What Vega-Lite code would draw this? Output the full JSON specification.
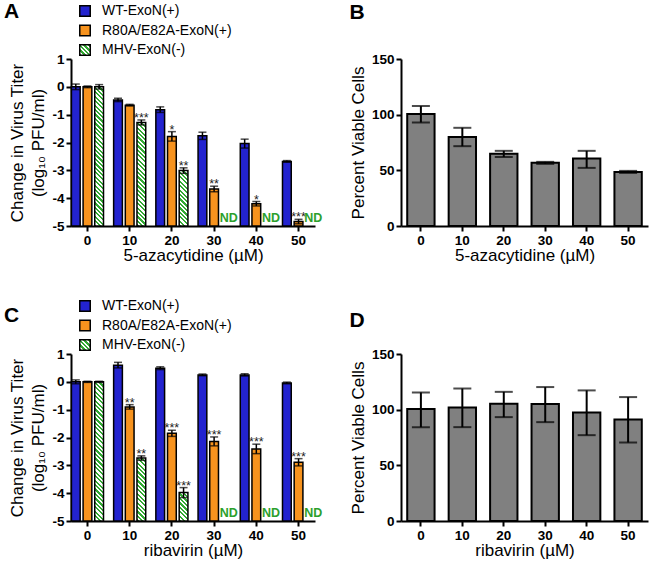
{
  "$schema": "https://vega.github.io/schema/vega-lite/v6.json",
  "background": "white",
  "padding": {"left": 3, "top": 1, "right": 2, "bottom": 2},
  "bounds": "flush",
  "columns": 2,
  "spacing": {"row": 128, "column": 86},
  "resolve": {"scale": {"fill": "independent"}, "legend": {"fill": "independent"}},
  "params": [
    {"name": "hatch", "expr": "[{offset:0,color:'#3a3'},{offset:0.0139,color:'#3a3'},{offset:0.0139,color:'#fff'},{offset:0.0278,color:'#fff'},{offset:0.0278,color:'#3a3'},{offset:0.0417,color:'#3a3'},{offset:0.0417,color:'#fff'},{offset:0.0556,color:'#fff'},{offset:0.0556,color:'#3a3'},{offset:0.0694,color:'#3a3'},{offset:0.0694,color:'#fff'},{offset:0.0833,color:'#fff'},{offset:0.0833,color:'#3a3'},{offset:0.0972,color:'#3a3'},{offset:0.0972,color:'#fff'},{offset:0.1111,color:'#fff'},{offset:0.1111,color:'#3a3'},{offset:0.125,color:'#3a3'},{offset:0.125,color:'#fff'},{offset:0.1389,color:'#fff'},{offset:0.1389,color:'#3a3'},{offset:0.1528,color:'#3a3'},{offset:0.1528,color:'#fff'},{offset:0.1667,color:'#fff'},{offset:0.1667,color:'#3a3'},{offset:0.1806,color:'#3a3'},{offset:0.1806,color:'#fff'},{offset:0.1944,color:'#fff'},{offset:0.1944,color:'#3a3'},{offset:0.2083,color:'#3a3'},{offset:0.2083,color:'#fff'},{offset:0.2222,color:'#fff'},{offset:0.2222,color:'#3a3'},{offset:0.2361,color:'#3a3'},{offset:0.2361,color:'#fff'},{offset:0.25,color:'#fff'},{offset:0.25,color:'#3a3'},{offset:0.2639,color:'#3a3'},{offset:0.2639,color:'#fff'},{offset:0.2778,color:'#fff'},{offset:0.2778,color:'#3a3'},{offset:0.2917,color:'#3a3'},{offset:0.2917,color:'#fff'},{offset:0.3056,color:'#fff'},{offset:0.3056,color:'#3a3'},{offset:0.3194,color:'#3a3'},{offset:0.3194,color:'#fff'},{offset:0.3333,color:'#fff'},{offset:0.3333,color:'#3a3'},{offset:0.3472,color:'#3a3'},{offset:0.3472,color:'#fff'},{offset:0.3611,color:'#fff'},{offset:0.3611,color:'#3a3'},{offset:0.375,color:'#3a3'},{offset:0.375,color:'#fff'},{offset:0.3889,color:'#fff'},{offset:0.3889,color:'#3a3'},{offset:0.4028,color:'#3a3'},{offset:0.4028,color:'#fff'},{offset:0.4167,color:'#fff'},{offset:0.4167,color:'#3a3'},{offset:0.4306,color:'#3a3'},{offset:0.4306,color:'#fff'},{offset:0.4444,color:'#fff'},{offset:0.4444,color:'#3a3'},{offset:0.4583,color:'#3a3'},{offset:0.4583,color:'#fff'},{offset:0.4722,color:'#fff'},{offset:0.4722,color:'#3a3'},{offset:0.4861,color:'#3a3'},{offset:0.4861,color:'#fff'},{offset:0.5,color:'#fff'},{offset:0.5,color:'#3a3'},{offset:0.5139,color:'#3a3'},{offset:0.5139,color:'#fff'},{offset:0.5278,color:'#fff'},{offset:0.5278,color:'#3a3'},{offset:0.5417,color:'#3a3'},{offset:0.5417,color:'#fff'},{offset:0.5556,color:'#fff'},{offset:0.5556,color:'#3a3'},{offset:0.5694,color:'#3a3'},{offset:0.5694,color:'#fff'},{offset:0.5833,color:'#fff'},{offset:0.5833,color:'#3a3'},{offset:0.5972,color:'#3a3'},{offset:0.5972,color:'#fff'},{offset:0.6111,color:'#fff'},{offset:0.6111,color:'#3a3'},{offset:0.625,color:'#3a3'},{offset:0.625,color:'#fff'},{offset:0.6389,color:'#fff'},{offset:0.6389,color:'#3a3'},{offset:0.6528,color:'#3a3'},{offset:0.6528,color:'#fff'},{offset:0.6667,color:'#fff'},{offset:0.6667,color:'#3a3'},{offset:0.6806,color:'#3a3'},{offset:0.6806,color:'#fff'},{offset:0.6944,color:'#fff'},{offset:0.6944,color:'#3a3'},{offset:0.7083,color:'#3a3'},{offset:0.7083,color:'#fff'},{offset:0.7222,color:'#fff'},{offset:0.7222,color:'#3a3'},{offset:0.7361,color:'#3a3'},{offset:0.7361,color:'#fff'},{offset:0.75,color:'#fff'},{offset:0.75,color:'#3a3'},{offset:0.7639,color:'#3a3'},{offset:0.7639,color:'#fff'},{offset:0.7778,color:'#fff'},{offset:0.7778,color:'#3a3'},{offset:0.7917,color:'#3a3'},{offset:0.7917,color:'#fff'},{offset:0.8056,color:'#fff'},{offset:0.8056,color:'#3a3'},{offset:0.8194,color:'#3a3'},{offset:0.8194,color:'#fff'},{offset:0.8333,color:'#fff'},{offset:0.8333,color:'#3a3'},{offset:0.8472,color:'#3a3'},{offset:0.8472,color:'#fff'},{offset:0.8611,color:'#fff'},{offset:0.8611,color:'#3a3'},{offset:0.875,color:'#3a3'},{offset:0.875,color:'#fff'},{offset:0.8889,color:'#fff'},{offset:0.8889,color:'#3a3'},{offset:0.9028,color:'#3a3'},{offset:0.9028,color:'#fff'},{offset:0.9167,color:'#fff'},{offset:0.9167,color:'#3a3'},{offset:0.9306,color:'#3a3'},{offset:0.9306,color:'#fff'},{offset:0.9444,color:'#fff'},{offset:0.9444,color:'#3a3'},{offset:0.9583,color:'#3a3'},{offset:0.9583,color:'#fff'},{offset:0.9722,color:'#fff'},{offset:0.9722,color:'#3a3'},{offset:0.9861,color:'#3a3'},{offset:0.9861,color:'#fff'},{offset:1,color:'#fff'}]"}
  ],
  "datasets": {
    "aza": [
      {"conc": "0", "series": "WT-ExoN(+)", "value": 0, "lo": -0.1, "hi": 0.1, "sig": "", "note": ""},
      {"conc": "0", "series": "R80A/E82A-ExoN(+)", "value": 0, "lo": -0.03, "hi": 0.03, "sig": "", "note": ""},
      {"conc": "0", "series": "MHV-ExoN(-)", "value": 0, "lo": -0.08, "hi": 0.08, "sig": "", "note": ""},
      {"conc": "10", "series": "WT-ExoN(+)", "value": -0.47, "lo": -0.53, "hi": -0.41, "sig": "", "note": ""},
      {"conc": "10", "series": "R80A/E82A-ExoN(+)", "value": -0.66, "lo": -0.69, "hi": -0.63, "sig": "", "note": ""},
      {"conc": "10", "series": "MHV-ExoN(-)", "value": -1.28, "lo": -1.37, "hi": -1.19, "sig": "***", "note": ""},
      {"conc": "20", "series": "WT-ExoN(+)", "value": -0.82, "lo": -0.92, "hi": -0.72, "sig": "", "note": ""},
      {"conc": "20", "series": "R80A/E82A-ExoN(+)", "value": -1.78, "lo": -1.95, "hi": -1.61, "sig": "*", "note": ""},
      {"conc": "20", "series": "MHV-ExoN(-)", "value": -3.01, "lo": -3.11, "hi": -2.91, "sig": "**", "note": ""},
      {"conc": "30", "series": "WT-ExoN(+)", "value": -1.76, "lo": -1.89, "hi": -1.63, "sig": "", "note": ""},
      {"conc": "30", "series": "R80A/E82A-ExoN(+)", "value": -3.67, "lo": -3.77, "hi": -3.57, "sig": "**", "note": ""},
      {"conc": "30", "series": "MHV-ExoN(-)", "value": null, "lo": null, "hi": null, "sig": "", "note": "ND"},
      {"conc": "40", "series": "WT-ExoN(+)", "value": -2.04, "lo": -2.2, "hi": -1.88, "sig": "", "note": ""},
      {"conc": "40", "series": "R80A/E82A-ExoN(+)", "value": -4.2, "lo": -4.28, "hi": -4.12, "sig": "*", "note": ""},
      {"conc": "40", "series": "MHV-ExoN(-)", "value": null, "lo": null, "hi": null, "sig": "", "note": "ND"},
      {"conc": "50", "series": "WT-ExoN(+)", "value": -2.68, "lo": -2.71, "hi": -2.65, "sig": "", "note": ""},
      {"conc": "50", "series": "R80A/E82A-ExoN(+)", "value": -4.84, "lo": -4.92, "hi": -4.76, "sig": "***", "note": ""},
      {"conc": "50", "series": "MHV-ExoN(-)", "value": null, "lo": null, "hi": null, "sig": "", "note": "ND"}
    ],
    "riba": [
      {"conc": "0", "series": "WT-ExoN(+)", "value": 0, "lo": -0.07, "hi": 0.07, "sig": "", "note": ""},
      {"conc": "0", "series": "R80A/E82A-ExoN(+)", "value": 0, "lo": -0.02, "hi": 0.02, "sig": "", "note": ""},
      {"conc": "0", "series": "MHV-ExoN(-)", "value": 0, "lo": -0.02, "hi": 0.02, "sig": "", "note": ""},
      {"conc": "10", "series": "WT-ExoN(+)", "value": 0.6, "lo": 0.5, "hi": 0.7, "sig": "", "note": ""},
      {"conc": "10", "series": "R80A/E82A-ExoN(+)", "value": -0.9, "lo": -0.98, "hi": -0.82, "sig": "**", "note": ""},
      {"conc": "10", "series": "MHV-ExoN(-)", "value": -2.74, "lo": -2.82, "hi": -2.66, "sig": "**", "note": ""},
      {"conc": "20", "series": "WT-ExoN(+)", "value": 0.49, "lo": 0.44, "hi": 0.54, "sig": "", "note": ""},
      {"conc": "20", "series": "R80A/E82A-ExoN(+)", "value": -1.85, "lo": -1.96, "hi": -1.74, "sig": "***", "note": ""},
      {"conc": "20", "series": "MHV-ExoN(-)", "value": -3.98, "lo": -4.16, "hi": -3.8, "sig": "***", "note": ""},
      {"conc": "30", "series": "WT-ExoN(+)", "value": 0.25, "lo": 0.22, "hi": 0.28, "sig": "", "note": ""},
      {"conc": "30", "series": "R80A/E82A-ExoN(+)", "value": -2.14, "lo": -2.3, "hi": -1.98, "sig": "***", "note": ""},
      {"conc": "30", "series": "MHV-ExoN(-)", "value": null, "lo": null, "hi": null, "sig": "", "note": "ND"},
      {"conc": "40", "series": "WT-ExoN(+)", "value": 0.25, "lo": 0.21, "hi": 0.29, "sig": "", "note": ""},
      {"conc": "40", "series": "R80A/E82A-ExoN(+)", "value": -2.41, "lo": -2.58, "hi": -2.24, "sig": "***", "note": ""},
      {"conc": "40", "series": "MHV-ExoN(-)", "value": null, "lo": null, "hi": null, "sig": "", "note": "ND"},
      {"conc": "50", "series": "WT-ExoN(+)", "value": -0.04, "lo": -0.07, "hi": -0.01, "sig": "", "note": ""},
      {"conc": "50", "series": "R80A/E82A-ExoN(+)", "value": -2.89, "lo": -3.02, "hi": -2.76, "sig": "***", "note": ""},
      {"conc": "50", "series": "MHV-ExoN(-)", "value": null, "lo": null, "hi": null, "sig": "", "note": "ND"}
    ],
    "azaViab": [
      {"conc": "0", "value": 100.5, "lo": 93, "hi": 107.7},
      {"conc": "10", "value": 80, "lo": 71.7, "hi": 88.2},
      {"conc": "20", "value": 65, "lo": 62, "hi": 67.5},
      {"conc": "30", "value": 56.7, "lo": 55.8, "hi": 57.6},
      {"conc": "40", "value": 60.6, "lo": 52.2, "hi": 67.5},
      {"conc": "50", "value": 48.6, "lo": 47.7, "hi": 49.5}
    ],
    "ribaViab": [
      {"conc": "0", "value": 100.5, "lo": 84.3, "hi": 115.5},
      {"conc": "10", "value": 102, "lo": 84.3, "hi": 119},
      {"conc": "20", "value": 105.3, "lo": 93.3, "hi": 116},
      {"conc": "30", "value": 105, "lo": 88.8, "hi": 120.3},
      {"conc": "40", "value": 97.5, "lo": 77.1, "hi": 117.3},
      {"conc": "50", "value": 91.2, "lo": 70.5, "hi": 111.3}
    ]
  },
  "concat": [
    {
      "width": 244, "height": 167,
      "title": {"text": "A", "dx": -5, "offset": -18},
      "data": {"name": "aza"},
      "encoding": {
        "x": {"field": "conc", "type": "nominal", "sort": ["0", "10", "20", "30", "40", "50"], "scale": {"paddingInner": 0.24, "paddingOuter": 0.01}, "axis": {"title": "5-azacytidine (µM)"}},
        "xOffset": {"field": "series", "type": "nominal", "sort": ["WT-ExoN(+)", "R80A/E82A-ExoN(+)", "MHV-ExoN(-)"], "scale": {"domain": ["WT-ExoN(+)", "R80A/E82A-ExoN(+)", "MHV-ExoN(-)"], "paddingInner": 0.25, "paddingOuter": 0}}
      },
      "layer": [
        {
          "transform": [{"filter": "datum.series !== 'MHV-ExoN(-)' && isValid(datum.value)"}],
          "mark": {"type": "bar", "stroke": "black", "strokeWidth": 1.5},
          "encoding": {
            "y": {"field": "value", "type": "quantitative", "scale": {"domain": [-5, 1], "nice": false, "zero": false}, "axis": {"values": [-5, -4, -3, -2, -1, 0, 1], "tickCount": 12, "labelOverlap": false, "labelExpr": "'' + datum.value", "title": ["Change in Virus Titer", "(log₁₀ PFU/ml)"]}},
            "y2": {"datum": -5},
            "fill": {"field": "series", "type": "nominal", "scale": {"domain": ["WT-ExoN(+)", "R80A/E82A-ExoN(+)", "MHV-ExoN(-)"], "range": ["#2323cf", "#f7931e", {"expr": "{gradient:'linear',x1:0,y1:1,x2:7.63,y2:-6.63,stops:hatch}"}]}, "legend": {"orient": "none", "legendX": 7, "legendY": -55, "title": null}}
          }
        },
        {
          "transform": [{"filter": "datum.series === 'MHV-ExoN(-)' && isValid(datum.value)"}],
          "mark": {"type": "bar", "stroke": "black", "strokeWidth": 1.5, "fill": {"expr": "{gradient:'linear',x1:0,y1:1,x2:160*8.78/(77.1+pow((datum.value+5)*27.83,2)),y2:1-160*(datum.value+5)*27.83/(77.1+pow((datum.value+5)*27.83,2)),stops:hatch}"}},
          "encoding": {
            "y": {"field": "value", "type": "quantitative", "scale": {"domain": [-5, 1], "nice": false, "zero": false}},
            "y2": {"datum": -5}
          }
        },
        {
          "transform": [{"filter": "isValid(datum.value)"}],
          "mark": {"type": "rule", "color": "black", "strokeWidth": 1.5},
          "encoding": {
            "y": {"field": "lo", "type": "quantitative", "scale": {"domain": [-5, 1], "nice": false, "zero": false}},
            "y2": {"field": "hi"}
          }
        },
        {
          "transform": [{"filter": "isValid(datum.value)"}],
          "mark": {"type": "tick", "color": "black", "size": 8, "thickness": 1.5},
          "encoding": {"y": {"field": "lo", "type": "quantitative", "scale": {"domain": [-5, 1], "nice": false, "zero": false}}}
        },
        {
          "transform": [{"filter": "isValid(datum.value)"}],
          "mark": {"type": "tick", "color": "black", "size": 8, "thickness": 1.5},
          "encoding": {"y": {"field": "hi", "type": "quantitative", "scale": {"domain": [-5, 1], "nice": false, "zero": false}}}
        },
        {
          "transform": [{"filter": "datum.sig !== ''"}],
          "mark": {"type": "text", "font": "Liberation Sans", "fontSize": 12.5, "color": "#222", "baseline": "alphabetic", "dy": 2},
          "encoding": {
            "y": {"field": "hi", "type": "quantitative", "scale": {"domain": [-5, 1], "nice": false, "zero": false}},
            "text": {"field": "sig"}
          }
        },
        {
          "transform": [{"filter": "datum.note === 'ND'"}],
          "mark": {"type": "text", "font": "Liberation Sans", "fontSize": 12.5, "fontWeight": "bold", "color": "#2ca02c", "baseline": "alphabetic", "dx": 3, "dy": -4},
          "encoding": {
            "y": {"datum": -5, "type": "quantitative", "scale": {"domain": [-5, 1], "nice": false, "zero": false}},
            "text": {"field": "note"}
          }
        }
      ]
    },
    {
      "width": 247, "height": 167,
      "title": {"text": "B", "offset": 29},
      "data": {"name": "azaViab"},
      "encoding": {
        "x": {"field": "conc", "type": "nominal", "sort": ["0", "10", "20", "30", "40", "50"], "scale": {"paddingInner": 0.34, "paddingOuter": 0.15}, "axis": {"title": "5-azacytidine (µM)"}}
      },
      "layer": [
        {
          "mark": {"type": "bar", "fill": "#808080", "stroke": "black", "strokeWidth": 2},
          "encoding": {"y": {"field": "value", "type": "quantitative", "scale": {"domain": [0, 150], "nice": false}, "axis": {"values": [0, 50, 100, 150], "tickCount": 12, "labelOverlap": false, "title": "Percent Viable Cells"}}}
        },
        {
          "mark": {"type": "rule", "color": "black", "strokeWidth": 2},
          "encoding": {"y": {"field": "lo", "type": "quantitative", "scale": {"domain": [0, 150], "nice": false}}, "y2": {"field": "hi"}}
        },
        {
          "mark": {"type": "tick", "color": "black", "size": 18, "thickness": 2},
          "encoding": {"y": {"field": "lo", "type": "quantitative", "scale": {"domain": [0, 150], "nice": false}}}
        },
        {
          "mark": {"type": "tick", "color": "black", "size": 18, "thickness": 2},
          "encoding": {"y": {"field": "hi", "type": "quantitative", "scale": {"domain": [0, 150], "nice": false}}}
        }
      ]
    },
    {
      "width": 244, "height": 167,
      "title": {"text": "C", "dx": -5, "offset": -27},
      "data": {"name": "riba"},
      "encoding": {
        "x": {"field": "conc", "type": "nominal", "sort": ["0", "10", "20", "30", "40", "50"], "scale": {"paddingInner": 0.24, "paddingOuter": 0.01}, "axis": {"title": "ribavirin (µM)"}},
        "xOffset": {"field": "series", "type": "nominal", "sort": ["WT-ExoN(+)", "R80A/E82A-ExoN(+)", "MHV-ExoN(-)"], "scale": {"domain": ["WT-ExoN(+)", "R80A/E82A-ExoN(+)", "MHV-ExoN(-)"], "paddingInner": 0.25, "paddingOuter": 0}}
      },
      "layer": [
        {
          "transform": [{"filter": "datum.series !== 'MHV-ExoN(-)' && isValid(datum.value)"}],
          "mark": {"type": "bar", "stroke": "black", "strokeWidth": 1.5},
          "encoding": {
            "y": {"field": "value", "type": "quantitative", "scale": {"domain": [-5, 1], "nice": false, "zero": false}, "axis": {"values": [-5, -4, -3, -2, -1, 0, 1], "tickCount": 12, "labelOverlap": false, "labelExpr": "'' + datum.value", "title": ["Change in Virus Titer", "(log₁₀ PFU/ml)"]}},
            "y2": {"datum": -5},
            "fill": {"field": "series", "type": "nominal", "scale": {"domain": ["WT-ExoN(+)", "R80A/E82A-ExoN(+)", "MHV-ExoN(-)"], "range": ["#2323cf", "#f7931e", {"expr": "{gradient:'linear',x1:0,y1:1,x2:7.63,y2:-6.63,stops:hatch}"}]}, "legend": {"orient": "none", "legendX": 7, "legendY": -55, "title": null}}
          }
        },
        {
          "transform": [{"filter": "datum.series === 'MHV-ExoN(-)' && isValid(datum.value)"}],
          "mark": {"type": "bar", "stroke": "black", "strokeWidth": 1.5, "fill": {"expr": "{gradient:'linear',x1:0,y1:1,x2:160*8.78/(77.1+pow((datum.value+5)*27.83,2)),y2:1-160*(datum.value+5)*27.83/(77.1+pow((datum.value+5)*27.83,2)),stops:hatch}"}},
          "encoding": {
            "y": {"field": "value", "type": "quantitative", "scale": {"domain": [-5, 1], "nice": false, "zero": false}},
            "y2": {"datum": -5}
          }
        },
        {
          "transform": [{"filter": "isValid(datum.value)"}],
          "mark": {"type": "rule", "color": "black", "strokeWidth": 1.5},
          "encoding": {
            "y": {"field": "lo", "type": "quantitative", "scale": {"domain": [-5, 1], "nice": false, "zero": false}},
            "y2": {"field": "hi"}
          }
        },
        {
          "transform": [{"filter": "isValid(datum.value)"}],
          "mark": {"type": "tick", "color": "black", "size": 8, "thickness": 1.5},
          "encoding": {"y": {"field": "lo", "type": "quantitative", "scale": {"domain": [-5, 1], "nice": false, "zero": false}}}
        },
        {
          "transform": [{"filter": "isValid(datum.value)"}],
          "mark": {"type": "tick", "color": "black", "size": 8, "thickness": 1.5},
          "encoding": {"y": {"field": "hi", "type": "quantitative", "scale": {"domain": [-5, 1], "nice": false, "zero": false}}}
        },
        {
          "transform": [{"filter": "datum.sig !== ''"}],
          "mark": {"type": "text", "font": "Liberation Sans", "fontSize": 12.5, "color": "#222", "baseline": "alphabetic", "dy": 2},
          "encoding": {
            "y": {"field": "hi", "type": "quantitative", "scale": {"domain": [-5, 1], "nice": false, "zero": false}},
            "text": {"field": "sig"}
          }
        },
        {
          "transform": [{"filter": "datum.note === 'ND'"}],
          "mark": {"type": "text", "font": "Liberation Sans", "fontSize": 12.5, "fontWeight": "bold", "color": "#2ca02c", "baseline": "alphabetic", "dx": 3, "dy": -4},
          "encoding": {
            "y": {"datum": -5, "type": "quantitative", "scale": {"domain": [-5, 1], "nice": false, "zero": false}},
            "text": {"field": "note"}
          }
        }
      ]
    },
    {
      "width": 247, "height": 167,
      "title": {"text": "D", "offset": 16},
      "data": {"name": "ribaViab"},
      "encoding": {
        "x": {"field": "conc", "type": "nominal", "sort": ["0", "10", "20", "30", "40", "50"], "scale": {"paddingInner": 0.34, "paddingOuter": 0.15}, "axis": {"title": "ribavirin (µM)"}}
      },
      "layer": [
        {
          "mark": {"type": "bar", "fill": "#808080", "stroke": "black", "strokeWidth": 2},
          "encoding": {"y": {"field": "value", "type": "quantitative", "scale": {"domain": [0, 150], "nice": false}, "axis": {"values": [0, 50, 100, 150], "tickCount": 12, "labelOverlap": false, "title": "Percent Viable Cells"}}}
        },
        {
          "mark": {"type": "rule", "color": "black", "strokeWidth": 2},
          "encoding": {"y": {"field": "lo", "type": "quantitative", "scale": {"domain": [0, 150], "nice": false}}, "y2": {"field": "hi"}}
        },
        {
          "mark": {"type": "tick", "color": "black", "size": 18, "thickness": 2},
          "encoding": {"y": {"field": "lo", "type": "quantitative", "scale": {"domain": [0, 150], "nice": false}}}
        },
        {
          "mark": {"type": "tick", "color": "black", "size": 18, "thickness": 2},
          "encoding": {"y": {"field": "hi", "type": "quantitative", "scale": {"domain": [0, 150], "nice": false}}}
        }
      ]
    }
  ],
  "config": {
    "font": "Liberation Sans",
    "view": {"stroke": null},
    "title": {"anchor": "start", "frame": "bounds", "fontSize": 21, "fontWeight": "bold", "color": "black", "font": "Liberation Sans"},
    "axis": {"domainColor": "black", "domainWidth": 2, "tickColor": "black", "tickWidth": 2, "tickSize": 5, "labelFont": "Liberation Sans", "labelFontSize": 13.5, "labelFontWeight": "bold", "labelColor": "black", "labelPadding": 2, "labelOverlap": false, "labelFlush": false, "titleFont": "Liberation Sans", "titleFontSize": 17, "titleFontWeight": "normal", "titleColor": "black", "grid": false},
    "axisX": {"labelAngle": 0, "titlePadding": 1},
    "axisY": {"titleLineHeight": 21, "titlePadding": 4},
    "legend": {"labelFont": "Liberation Sans", "labelFontSize": 14, "labelColor": "black", "symbolType": "square", "symbolSize": 110, "symbolStrokeColor": "black", "symbolStrokeWidth": 1.5, "labelOffset": 10, "rowPadding": 1.5, "padding": 0}
  }
}
